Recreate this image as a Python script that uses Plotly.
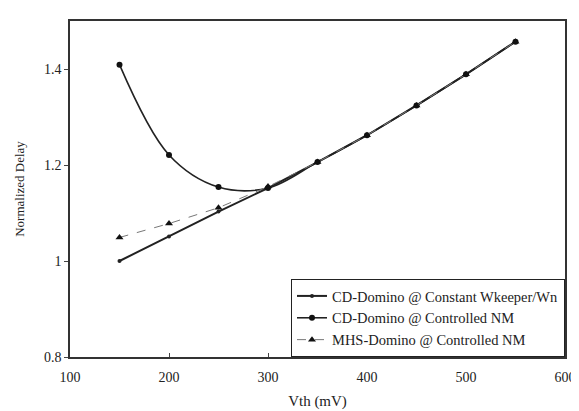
import plotly.graph_objects as go

vth = [150, 200, 250, 300, 350, 400, 450, 500, 550]
cd_constant = [1.000, 1.051, 1.103, 1.152, 1.206, 1.262, 1.324, 1.389, 1.457]
cd_controlled = [1.409, 1.221, 1.154, 1.152, 1.206, 1.262, 1.324, 1.389, 1.457]
mhs_controlled = [1.049, 1.078, 1.111, 1.155, 1.206, 1.262, 1.324, 1.389, 1.457]

x_ticks = [100, 200, 300, 400, 500, 600]
y_ticks = [0.8, 1.0, 1.2, 1.4]
y_tick_labels = ["0.8", "1", "1.2", "1.4"]

font = "Liberation Serif, Times New Roman, serif"

fig = go.Figure()
fig.add_trace(go.Scatter(
    x=vth, y=cd_constant, mode="lines+markers",
    name="CD-Domino @ Constant Wkeeper/Wn",
    line=dict(color="#222222", width=2),
    marker=dict(symbol="circle", size=4, color="#222222"),
))
fig.add_trace(go.Scatter(
    x=vth, y=cd_controlled, mode="lines+markers",
    name="CD-Domino @ Controlled NM",
    line=dict(color="#222222", width=1.6, shape="spline", smoothing=1.0),
    marker=dict(symbol="circle", size=6, color="#111111"),
))
fig.add_trace(go.Scatter(
    x=vth, y=mhs_controlled, mode="lines+markers",
    name="MHS-Domino @ Controlled NM",
    line=dict(color="#777777", width=1, dash="dash"),
    marker=dict(symbol="triangle-up", size=7, color="#111111"),
))

fig.update_layout(
    width=579, height=411,
    margin=dict(l=60, r=11, t=12, b=62),
    paper_bgcolor="white", plot_bgcolor="white",
    font=dict(family=font, size=12, color="#222222"),
    showlegend=True,
    legend=dict(
        x=1.0, y=0.0, xanchor="right", yanchor="bottom",
        bordercolor="#222222", borderwidth=1, bgcolor="white",
        font=dict(family=font, size=14.5, color="#222222"),
        itemwidth=30, tracegroupgap=3,
    ),
    xaxis=dict(
        range=[100, 600], tickvals=x_ticks, ticks="inside", ticklen=4,
        showline=True, linecolor="#333333", linewidth=1.5, mirror=True,
        showgrid=False, zeroline=False, ticklabelstandoff=6,
        title=dict(text="Vth (mV)", font=dict(family=font, size=15), standoff=12),
        tickfont=dict(family=font, size=14),
    ),
    yaxis=dict(
        range=[0.8, 1.5], tickvals=y_ticks, ticktext=y_tick_labels,
        ticks="outside", ticklen=4,
        showline=True, linecolor="#333333", linewidth=1.5, mirror=True,
        showgrid=False, zeroline=False,
        title=dict(text="Normalized Delay", font=dict(family=font, size=13), standoff=16),
        tickfont=dict(family=font, size=14),
    ),
)

fig.write_html("out.html")
